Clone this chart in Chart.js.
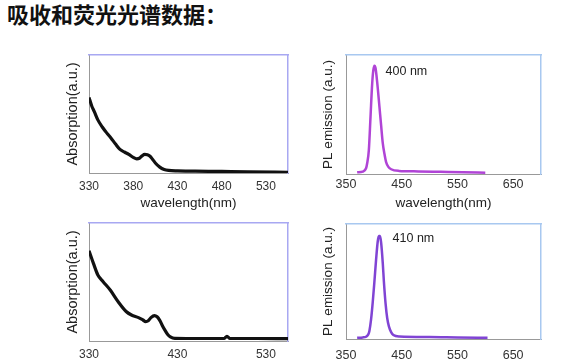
<!DOCTYPE html>
<html>
<head>
<meta charset="utf-8">
<script src="https://cdn.jsdelivr.net/npm/chart.js@4.4.1/dist/chart.umd.min.js"></script>
<style>
  body { margin: 0; background: #fff; width: 561px; height: 360px; position: relative; overflow: hidden; }
  #title { position: absolute; left: 7px; top: 2px; font: bold 22px/22px "Noto Sans CJK SC"; color: #111; }
  canvas { position: absolute; }
</style>
</head>
<body>
<div id="title">吸收和荧光光谱数据：</div>
<canvas id="absTop" width="245" height="170" style="left:50px;top:45px"></canvas>
<canvas id="plTop" width="250" height="170" style="left:305px;top:45px"></canvas>
<canvas id="absBottom" width="245" height="147" style="left:50px;top:213px"></canvas>
<canvas id="plBottom" width="250" height="147" style="left:305px;top:213px"></canvas>
<script>
// Absorption spectrum, sample 1 (wavelength nm / relative absorbance)
const abs1Wl  = [330, 333, 336, 340, 345, 350, 355, 360, 365, 370, 375, 380, 384, 387, 390, 393, 396, 399, 402, 405, 410, 415, 420, 430, 450, 480, 510, 555];
const abs1Val = [0.64, 0.57, 0.52, 0.45, 0.39, 0.34, 0.295, 0.245, 0.20, 0.178, 0.158, 0.132, 0.12, 0.125, 0.145, 0.158, 0.155, 0.142, 0.115, 0.085, 0.05, 0.03, 0.022, 0.018, 0.016, 0.013, 0.01, 0.006];

// Absorption spectrum, sample 2
const abs2Wl  = [330, 335, 340, 346, 354, 363, 372, 378, 386, 391, 394, 397, 400, 404, 407, 410, 413, 416, 419, 422, 427, 440, 483, 486, 489, 520, 555];
const abs2Val = [0.765, 0.658, 0.56, 0.503, 0.432, 0.333, 0.25, 0.22, 0.198, 0.178, 0.165, 0.172, 0.198, 0.215, 0.205, 0.175, 0.13, 0.09, 0.055, 0.035, 0.022, 0.021, 0.022, 0.04, 0.022, 0.021, 0.02];

// PL emission, sample 1 (peak 400 nm)
const pl1Wl  = [370, 380, 386, 388, 391, 394, 397, 399, 401, 403, 406, 410, 413, 416, 419, 422, 426, 431, 445, 480, 520, 560, 600];
const pl1Val = [0.014, 0.02, 0.048, 0.09, 0.2, 0.48, 0.76, 0.87, 0.91, 0.89, 0.77, 0.566, 0.41, 0.26, 0.17, 0.10, 0.06, 0.04, 0.026, 0.022, 0.018, 0.014, 0.011];

// PL emission, sample 2 (peak 410 nm)
const pl2Wl  = [370, 380, 386, 390, 392, 395, 398, 401, 404, 407, 409, 411, 413, 416, 418, 421, 424, 427, 431, 435, 446, 500, 550, 604];
const pl2Val = [0.011, 0.014, 0.02, 0.04, 0.07, 0.17, 0.32, 0.5, 0.69, 0.85, 0.895, 0.895, 0.84, 0.66, 0.5, 0.31, 0.18, 0.11, 0.06, 0.035, 0.022, 0.018, 0.014, 0.011];

// tick labels
const absTicksTop    = [330, 380, 430, 480, 530];
const absTicksBottom = [330, 430, 530];
const plTicks        = [350, 450, 550, 650];

const FONT = "'Liberation Sans', Arial, sans-serif";

function toPoints(xs, ys) {
    return xs.map((x, i) => ({ x: x, y: ys[i] }));
}

// writes the peak label ("400 nm") at a data position
function peakLabel(text, x, y) {
    return {
        id: 'peakLabel',
        afterDatasetsDraw(chart) {
            const ctx = chart.ctx;
            ctx.save();
            ctx.font = "12.5px " + FONT;
            ctx.fillStyle = '#222';
            ctx.textAlign = 'left';
            ctx.textBaseline = 'middle';
            ctx.fillText(text, chart.scales.x.getPixelForValue(x), chart.scales.y.getPixelForValue(y));
            ctx.restore();
        }
    };
}

function spectrumChart(id, c) {
    const ctx = document.getElementById(id).getContext('2d');
    new Chart(ctx, {
        type: 'line',
        data: {
            datasets: [{
                data: toPoints(c.wl, c.val),
                borderColor: c.color,
                borderWidth: c.lineWidth,
                pointRadius: 0,
                cubicInterpolationMode: 'monotone',
                fill: false
            }]
        },
        options: {
            responsive: false,
            animation: false,
            devicePixelRatio: 1,
            layout: { padding: c.padding },
            plugins: { legend: { display: false }, tooltip: { enabled: false } },
            scales: {
                x: {
                    type: 'linear',
                    min: c.xMin,
                    max: c.xMax,
                    afterBuildTicks: s => { s.ticks = c.ticks.map(v => ({ value: v })); },
                    afterFit: s => { s.height = c.xHeight; },
                    grid: { display: false, drawTicks: false },
                    border: { color: '#999', width: 1 },
                    ticks: {
                        autoSkip: false, maxRotation: 0, padding: c.tickPad,
                        color: '#333', font: { family: FONT, size: c.tickSize },
                        callback: v => String(v)
                    },
                    title: {
                        display: !!c.xTitle, text: c.xTitle, color: '#222',
                        font: { family: FONT, size: 13.5 }, padding: { top: 0, bottom: 4 }
                    }
                },
                y: {
                    min: 0,
                    max: 1,
                    afterFit: s => { s.width = c.yWidth; },
                    grid: { display: false, drawTicks: false },
                    border: { color: '#999', width: 1 },
                    ticks: { display: false },
                    title: {
                        display: true, text: c.yTitle, color: '#222',
                        font: { family: FONT, size: c.yTitleSize }, padding: { top: c.yTitlePad, bottom: 0 }
                    }
                },
                // frame on top and right
                x2: {
                    type: 'linear', position: 'top',
                    afterFit: s => { s.height = 0; },
                    grid: { display: false, drawTicks: false },
                    border: { color: c.frame, width: 1.5 },
                    ticks: { display: false }
                },
                y2: {
                    type: 'linear', position: 'right',
                    afterFit: s => { s.width = 0; },
                    grid: { display: false, drawTicks: false },
                    border: { color: c.frame, width: 1.5 },
                    ticks: { display: false }
                }
            }
        },
        plugins: c.peak ? [peakLabel(c.peak.text, c.peak.x, c.peak.y)] : []
    });
}

spectrumChart('absTop', {
    wl: abs1Wl, val: abs1Val, color: '#111', lineWidth: 3.2,
    xMin: 330, xMax: 555, ticks: absTicksTop, tickSize: 12, tickPad: 6,
    xTitle: 'wavelength(nm)', yTitle: 'Absorption(a.u.)', yTitleSize: 14.5, yTitlePad: 14,
    frame: '#a8a8f2', yWidth: 39, xHeight: 42, padding: { top: 10, right: 7, left: 0, bottom: 0 }
});

spectrumChart('plTop', {
    wl: pl1Wl, val: pl1Val, color: '#b044d6', lineWidth: 2.5,
    xMin: 350, xMax: 700, ticks: plTicks, tickSize: 12.5, tickPad: 3,
    xTitle: 'wavelength(nm)', yTitle: 'PL emission (a.u.)', yTitleSize: 13.5, yTitlePad: 15,
    frame: '#a8c8f0', yWidth: 41, xHeight: 41, padding: { top: 10, right: 14, left: 0, bottom: 0 },
    peak: { text: '400 nm', x: 421, y: 0.857 }
});

spectrumChart('absBottom', {
    wl: abs2Wl, val: abs2Val, color: '#111', lineWidth: 3.2,
    xMin: 330, xMax: 555, ticks: absTicksBottom, tickSize: 12, tickPad: 6,
    xTitle: null, yTitle: 'Absorption(a.u.)', yTitleSize: 14.5, yTitlePad: 14,
    frame: '#a8a8f2', yWidth: 39, xHeight: 19, padding: { top: 10, right: 7, left: 0, bottom: 0 }
});

spectrumChart('plBottom', {
    wl: pl2Wl, val: pl2Val, color: '#8044d4', lineWidth: 2.5,
    xMin: 350, xMax: 700, ticks: plTicks, tickSize: 12.5, tickPad: 9,
    xTitle: null, yTitle: 'PL emission (a.u.)', yTitleSize: 13.5, yTitlePad: 15,
    frame: '#a8c8f0', yWidth: 41, xHeight: 21, padding: { top: 11, right: 14, left: 0, bottom: 0 },
    peak: { text: '410 nm', x: 433.6, y: 0.87 }
});
</script>
</body>
</html>
